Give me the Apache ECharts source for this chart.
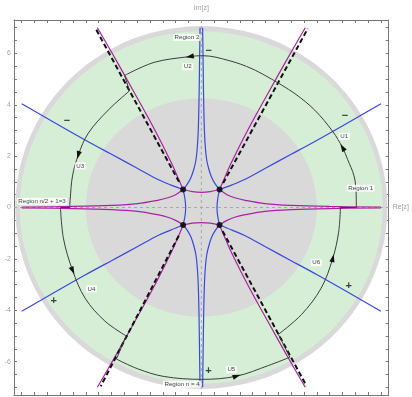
<!DOCTYPE html>
<html>
<head>
<meta charset="utf-8">
<script src="https://cdn.jsdelivr.net/npm/echarts@6/dist/echarts.min.js"></script>
<style>
html,body{margin:0;padding:0;background:#fff;}
#chart{width:412px;height:397px;}
</style>
</head>
<body>
<div id="chart"></div>
<script>
// ---- plot window and ticks ----
const axisRange = [-7.3, 7.3];
const yTickLabels = [-6, -4, -2, 0, 2, 4, 6];
const frameTicks = [-7, -6.5, -6, -5.5, -5, -4.5, -4, -3.5, -3, -2.5, -2, -1.5, -1, -0.5, 0,
  0.5, 1, 1.5, 2, 2.5, 3, 3.5, 4, 4.5, 5, 5.5, 6, 6.5, 7];

// ---- shaded regions: [horizontal radius, vertical radius] ----
const outerDisk = [7.25, 7.06];
const annulusDisk = [7.07, 6.86];
const innerDisk = [4.5, 4.25];

// ---- saddle points ----
const saddlePoints = [[-0.71, 0.70], [0.71, 0.70], [-0.71, -0.68], [0.71, -0.68]];

// ---- blue level curves ----
const blueTLUp = [[-0.71, 0.70], [-0.54, 0.92], [-0.4, 1.18], [-0.29, 1.5], [-0.21, 1.85], [-0.16, 2.3], [-0.12, 3.0], [-0.09, 4.2], [-0.07, 5.6], [-0.05, 7.0]];
const blueTRUp = [[0.71, 0.70], [0.54, 0.92], [0.4, 1.18], [0.29, 1.5], [0.21, 1.85], [0.16, 2.3], [0.12, 3.0], [0.09, 4.2], [0.07, 5.6], [0.05, 7.0]];
const blueBLDown = [[-0.71, -0.68], [-0.54, -0.9], [-0.4, -1.16], [-0.29, -1.5], [-0.21, -1.85], [-0.16, -2.3], [-0.12, -3.0], [-0.09, -4.2], [-0.07, -5.6], [-0.05, -7.0]];
const blueBRDown = [[0.71, -0.68], [0.54, -0.9], [0.4, -1.16], [0.29, -1.5], [0.21, -1.85], [0.16, -2.3], [0.12, -3.0], [0.09, -4.2], [0.07, -5.6], [0.05, -7.0]];
const blueTLOut = [[-0.71, 0.70], [-1.2, 0.88], [-1.71, 1.1], [-2.48, 1.52], [-3.5, 2.07], [-4.53, 2.63], [-5.8, 3.35], [-7.0, 4.04]];
const blueTROut = [[0.71, 0.70], [1.2, 0.88], [1.71, 1.1], [2.48, 1.52], [3.5, 2.07], [4.53, 2.63], [5.8, 3.35], [7.0, 4.04]];
const blueBLOut = [[-0.71, -0.68], [-1.2, -0.88], [-1.71, -1.1], [-2.48, -1.52], [-3.5, -2.07], [-4.53, -2.63], [-5.8, -3.35], [-7.0, -4.04]];
const blueBROut = [[0.71, -0.68], [1.2, -0.88], [1.71, -1.1], [2.48, -1.52], [3.5, -2.07], [4.53, -2.63], [5.8, -3.35], [7.0, -4.04]];
const blueLeftLink = [[-0.71, 0.70], [-0.64, 0.35], [-0.61, 0], [-0.64, -0.35], [-0.71, -0.68]];
const blueRightLink = [[0.71, 0.70], [0.64, 0.35], [0.61, 0], [0.64, -0.35], [0.71, -0.68]];

// ---- purple level curves ----
const purpleTLUp = [[-0.71, 0.70], [-0.82, 0.95], [-0.95, 1.25], [-1.1, 1.6], [-1.36, 2.13], [-1.7, 2.8], [-2.1, 3.55], [-2.6, 4.45], [-3.3, 5.7], [-4.05, 7.0]];
const purpleTRUp = [[0.71, 0.70], [0.82, 0.95], [0.95, 1.25], [1.1, 1.6], [1.36, 2.13], [1.7, 2.8], [2.1, 3.55], [2.6, 4.45], [3.3, 5.7], [4.05, 7.0]];
const purpleBLDown = [[-0.71, -0.68], [-0.82, -0.95], [-0.95, -1.25], [-1.1, -1.6], [-1.36, -2.13], [-1.7, -2.8], [-2.1, -3.55], [-2.6, -4.45], [-3.3, -5.7], [-4.05, -7.0]];
const purpleBRDown = [[0.71, -0.68], [0.82, -0.95], [0.95, -1.25], [1.1, -1.6], [1.36, -2.13], [1.7, -2.8], [2.1, -3.55], [2.6, -4.45], [3.3, -5.7], [4.05, -7.0]];
const purpleTLOut = [[-0.71, 0.70], [-1.0, 0.5], [-1.3, 0.38], [-1.71, 0.28], [-2.48, 0.15], [-3.5, 0.08], [-5.0, 0.04], [-7.0, 0.02]];
const purpleTROut = [[0.71, 0.70], [1.0, 0.5], [1.3, 0.38], [1.71, 0.28], [2.48, 0.15], [3.5, 0.08], [5.0, 0.04], [7.0, 0.02]];
const purpleBLOut = [[-0.71, -0.68], [-1.0, -0.5], [-1.3, -0.38], [-1.71, -0.28], [-2.48, -0.15], [-3.5, -0.08], [-5.0, -0.04], [-7.0, -0.02]];
const purpleBROut = [[0.71, -0.68], [1.0, -0.5], [1.3, -0.38], [1.71, -0.28], [2.48, -0.15], [3.5, -0.08], [5.0, -0.04], [7.0, -0.02]];
const purpleTopLink = [[-0.71, 0.70], [-0.35, 0.62], [0, 0.59], [0.35, 0.62], [0.71, 0.70]];
const purpleBottomLink = [[-0.71, -0.68], [-0.35, -0.61], [0, -0.59], [0.35, -0.61], [0.71, -0.68]];

// ---- dashed asymptotes ----
const asymTR = [[0.85, 0.95], [4.15, 6.97]];
const asymTL = [[-0.87, 1.0], [-4.12, 6.97]];
const asymBL = [[-0.88, -1.1], [-3.92, -6.96]];
const asymBR = [[0.83, -0.92], [4.1, -6.95]];

// ---- integration contour arcs ----
const arcU1 = [[6.04, 0], [6.03, 0.6], [5.95, 1.23], [5.7, 1.87], [5.51, 2.32], [5.12, 2.96], [4.42, 3.79], [3.65, 4.43], [2.82, 4.95]];
const arcU2 = [[2.82, 4.95], [1.98, 5.4], [1.08, 5.72], [0.06, 5.91], [-0.43, 5.88], [-1.84, 5.65], [-2.99, 5.14]];
const arcU3 = [[-2.8, 4.54], [-3.63, 3.79], [-4.4, 2.9], [-4.79, 2.06], [-5.02, 1.23], [-5.11, 0.33], [-5.13, 0]];
const arcU4 = [[-5.49, 0], [-5.37, -1.22], [-5.02, -2.44], [-4.53, -3.53], [-3.76, -4.42], [-2.93, -5.0]];
const arcU5 = [[-3.31, -5.9], [-2.48, -6.28], [-1.45, -6.58], [0.02, -6.69], [1.36, -6.57], [2.62, -6.15], [3.45, -5.83]];
const arcU6 = [[3.0, -4.94], [3.9, -4.17], [4.67, -3.14], [5.12, -1.99], [5.35, -0.96], [5.42, 0]];
const contourLinks = [
  [[5.42, 0], [6.04, 0]],
  [[-2.99, 5.14], [-2.8, 4.54]],
  [[-5.13, 0], [-5.49, 0]],
  [[-2.93, -5.0], [-3.31, -5.9]],
  [[3.45, -5.83], [3.0, -4.94]]
];
// arrow heads: [arc, point index] - arrow points toward the following point
const arrowHeads = [[arcU1, 4], [arcU2, 4], [arcU3, 3], [arcU4, 2], [arcU5, 4], [arcU6, 3]];

// ---- annotations ----
const boxLabels = [
  ['Region 2', -0.56, 6.62],
  ['U2', -0.53, 5.48],
  ['U3', -4.72, 1.62],
  ['Region n/2 + 1=3', -6.21, 0.24],
  ['U1', 5.57, 2.77],
  ['Region 1', 6.21, 0.75],
  ['U4', -4.28, -3.17],
  ['Region n = 4', -0.75, -6.88],
  ['U5', 1.17, -6.31],
  ['U6', 4.48, -2.15]
];
const signMarks = [
  ['\u2212', -5.24, 3.35], ['\u2212', 0.29, 6.1], ['\u2212', 5.6, 3.56],
  ['+', -5.75, -3.63], ['+', 5.74, -3.04], ['+', 0.28, -6.36]
];

// ---- styles ----
const BLUE = '#3a48dc';
const PURPLE = '#a8249f';
const FONT = 'Liberation Sans, Arial, sans-serif';

const chart = echarts.init(document.getElementById('chart'), null, { renderer: 'canvas' });

function curve(data, color, width, z) {
  return {
    type: 'line', data: data, showSymbol: false, smooth: 0.35, silent: true,
    lineStyle: { color: color, width: width }, z: z, animation: false
  };
}
function straight(data, color, width, type, z) {
  return {
    type: 'line', data: data, showSymbol: false, silent: true,
    lineStyle: { color: color, width: width, type: type }, z: z, animation: false
  };
}

const diskLayers = [outerDisk, annulusDisk, innerDisk];
const diskColors = ['#d9d9d9', '#d6eed6', '#d9d9d9'];

const series = [];
// shaded regions
series.push({
  type: 'custom', data: diskLayers, z: 1, silent: true, animation: false, clip: true,
  renderItem: function (params, api) {
    const rx = api.value(0), ry = api.value(1);
    const pts = [];
    for (let k = 0; k < 180; k++) {
      const t = k / 180 * Math.PI * 2;
      pts.push(api.coord([rx * Math.cos(t), ry * Math.sin(t)]));
    }
    return { type: 'polygon', shape: { points: pts }, style: { fill: diskColors[params.dataIndex] } };
  }
});
// coordinate axes (dashed)
series.push(straight([[0, axisRange[0]], [0, axisRange[1]]], '#a8a8a8', 1, [3, 3], 2));
series.push(straight([[axisRange[0], 0], [axisRange[1], 0]], '#a8a8a8', 1, [3, 3], 2));

// level curves
[purpleTLUp, purpleTRUp, purpleBLDown, purpleBRDown, purpleTLOut, purpleTROut, purpleBLOut, purpleBROut, purpleTopLink, purpleBottomLink]
  .forEach(d => series.push(curve(d, PURPLE, 1.2, 3)));
[blueTLUp, blueTRUp, blueBLDown, blueBRDown, blueTLOut, blueTROut, blueBLOut, blueBROut, blueLeftLink, blueRightLink]
  .forEach(d => series.push(curve(d, BLUE, 1.2, 3)));
[asymTR, asymTL, asymBL, asymBR].forEach(d => series.push(straight(d, '#111', 2, [5, 3], 4)));

// contour
[arcU1, arcU2, arcU3, arcU4, arcU5, arcU6].forEach(d => series.push(curve(d, '#3c3c3c', 1, 5)));
contourLinks.forEach(d => series.push(straight(d, '#3c3c3c', 1, 'solid', 5)));

// arrow heads
series.push({
  type: 'custom', z: 6, silent: true, animation: false,
  data: arrowHeads.map(a => [a[0][a[1]][0], a[0][a[1]][1], a[0][a[1] + 1][0], a[0][a[1] + 1][1]]),
  renderItem: function (params, api) {
    const p = api.coord([api.value(0), api.value(1)]);
    const q = api.coord([api.value(2), api.value(3)]);
    const L = Math.hypot(q[0] - p[0], q[1] - p[1]) || 1;
    const ux = (q[0] - p[0]) / L, uy = (q[1] - p[1]) / L;
    const nx = -uy, ny = ux;
    const tip = [p[0] + ux * 4.5, p[1] + uy * 4.5];
    const b1 = [p[0] - ux * 3.5 + nx * 2.6, p[1] - uy * 3.5 + ny * 2.6];
    const b2 = [p[0] - ux * 3.5 - nx * 2.6, p[1] - uy * 3.5 - ny * 2.6];
    return { type: 'polygon', shape: { points: [tip, b1, b2] }, style: { fill: '#111' } };
  }
});

// saddle points
series.push({
  type: 'scatter', data: saddlePoints, symbolSize: 6, z: 7, silent: true, animation: false,
  itemStyle: { color: '#000' }
});

// boxed labels
series.push({
  type: 'scatter', z: 8, silent: true, animation: false, symbolSize: 0,
  data: boxLabels.map(b => ({ name: b[0], value: [b[1], b[2]] })),
  label: {
    show: true, position: 'inside', formatter: p => p.name,
    color: '#111', fontSize: 6.2, fontFamily: FONT,
    backgroundColor: '#fff', padding: [1, 1.5, 0, 1.5]
  }
});
// sign markers
series.push({
  type: 'scatter', z: 8, silent: true, animation: false, symbolSize: 0,
  data: signMarks.map(b => ({ name: b[0], value: [b[1], b[2]] })),
  label: {
    show: true, position: 'inside', formatter: p => p.name,
    color: '#111', fontSize: 11, fontWeight: 'bold', fontFamily: FONT
  }
});

const tickStyle = { show: true, inside: true, length: 3, lineStyle: { color: '#777', width: 1 }, customValues: frameTicks };
const lineStyle = { show: true, lineStyle: { color: '#777', width: 1 } };

chart.setOption({
  animation: false,
  backgroundColor: '#fff',
  grid: { left: 14, top: 16, width: 380.5, height: 379, containLabel: false },
  xAxis: [
    { type: 'value', position: 'bottom', min: axisRange[0], max: axisRange[1],
      axisLine: Object.assign({ onZero: false }, lineStyle), axisTick: tickStyle,
      axisLabel: { show: false }, splitLine: { show: false } },
    { type: 'value', position: 'top', min: axisRange[0], max: axisRange[1],
      axisLine: Object.assign({ onZero: false }, lineStyle), axisTick: tickStyle,
      axisLabel: { show: false }, splitLine: { show: false },
      name: 'Im[z]', nameLocation: 'middle', nameGap: 8,
      nameTextStyle: { color: '#a0a0a0', fontSize: 7, fontFamily: FONT } }
  ],
  yAxis: [
    { type: 'value', position: 'left', min: axisRange[0], max: axisRange[1],
      axisLine: Object.assign({ onZero: false }, lineStyle), axisTick: tickStyle,
      axisLabel: { show: true, customValues: yTickLabels, color: '#a0a0a0', fontSize: 7, fontFamily: FONT, margin: 3 },
      splitLine: { show: false } },
    { type: 'value', position: 'right', min: axisRange[0], max: axisRange[1],
      axisLine: Object.assign({ onZero: false }, lineStyle), axisTick: tickStyle,
      axisLabel: { show: false }, splitLine: { show: false },
      name: 'Re[z]', nameLocation: 'middle', nameGap: 4, nameRotate: 0,
      nameTextStyle: { color: '#a0a0a0', fontSize: 7, fontFamily: FONT, align: 'left' } }
  ],
  series: series
});
</script>
</body>
</html>
